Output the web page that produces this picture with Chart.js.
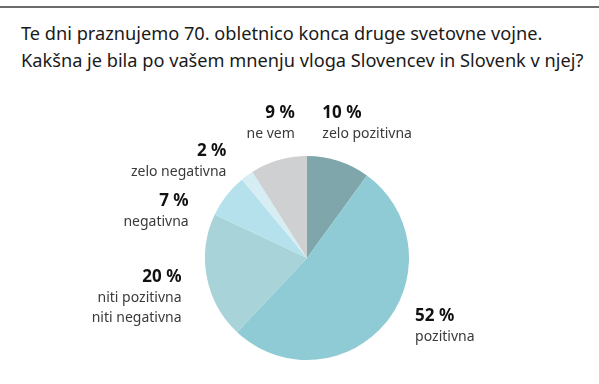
<!DOCTYPE html>
<html>
<head>
<meta charset="utf-8">
<script src="https://cdn.jsdelivr.net/npm/chart.js@4"></script>
<style>
    body { margin: 0; background: #fff; width: 599px; height: 384px; position: relative; overflow: hidden; font-family: 'Noto Sans', sans-serif; }
    #rule { position: absolute; left: 0; top: 6px; width: 599px; height: 2px; background: #6b6b6b; }
    #title { position: absolute; left: 21px; top: 20px; font-size: 18.2px; line-height: 27px; color: #1a1a1a; white-space: nowrap; }
    #chartContainer { position: absolute; left: 0; top: 0; width: 599px; height: 384px; }
</style>
</head>
<body>
<div id="rule"></div>
<div id="title">Te dni praznujemo 70. obletnico konca druge svetovne vojne.<br>Kakšna je bila po vašem mnenju vloga Slovencev in Slovenk v njej?</div>
<div id="chartContainer"><canvas id="pieChart"></canvas></div>
<script>
const categories = ['zelo pozitivna', 'pozitivna', 'niti pozitivna niti negativna', 'negativna', 'zelo negativna', 'ne vem'];
const percentages = [10, 52, 20, 7, 2, 9];
const labelLines = [['zelo pozitivna'], ['pozitivna'], ['niti pozitivna', 'niti negativna'], ['negativna'], ['zelo negativna'], ['ne vem']];
const colors = ['#7fa6aa', '#8ecbd4', '#a7d3d9', '#b4e1eb', '#d6edf3', '#cfd0d2'];

// label anchors, in pie radii from the centre
const labelPos = [
    { dx: 0.15, dy: -1.42, align: 'left' },
    { dx: 1.06, dy: 0.57, align: 'left' },
    { dx: -1.23, dy: 0.19, align: 'right' },
    { dx: -1.16, dy: -0.56, align: 'right' },
    { dx: -0.79, dy: -1.05, align: 'right' },
    { dx: -0.12, dy: -1.42, align: 'right' }
];

const outsideLabels = {
    id: 'outsideLabels',
    afterDraw(chart) {
        const ctx = chart.ctx;
        const arc = chart.getDatasetMeta(0).data[0];
        const cx = arc.x, cy = arc.y, r = arc.outerRadius;
        ctx.save();
        ctx.textBaseline = 'middle';
        percentages.forEach((v, i) => {
            const p = labelPos[i];
            const x = cx + p.dx * r;
            const y = cy + p.dy * r;
            ctx.textAlign = p.align;
            ctx.fillStyle = '#111';
            ctx.font = 'bold 17px "Noto Sans"';
            ctx.fillText(v + ' %', x, y);
            ctx.fillStyle = '#3a3a3a';
            ctx.font = '14px "Noto Sans"';
            labelLines[i].forEach((line, j) => {
                ctx.fillText(line, x, y + 21 + j * 20);
            });
        });
        ctx.restore();
    }
};

new Chart(document.getElementById('pieChart').getContext('2d'), {
    type: 'pie',
    data: {
        labels: categories,
        datasets: [{
            data: percentages,
            backgroundColor: colors,
            borderWidth: 0
        }]
    },
    options: {
        responsive: true,
        maintainAspectRatio: false,
        animation: false,
        layout: { padding: { top: 156, bottom: 24, left: 120, right: 105 } },
        plugins: {
            legend: { display: false },
            tooltip: { enabled: false }
        }
    },
    plugins: [outsideLabels]
});
</script>
</body>
</html>
